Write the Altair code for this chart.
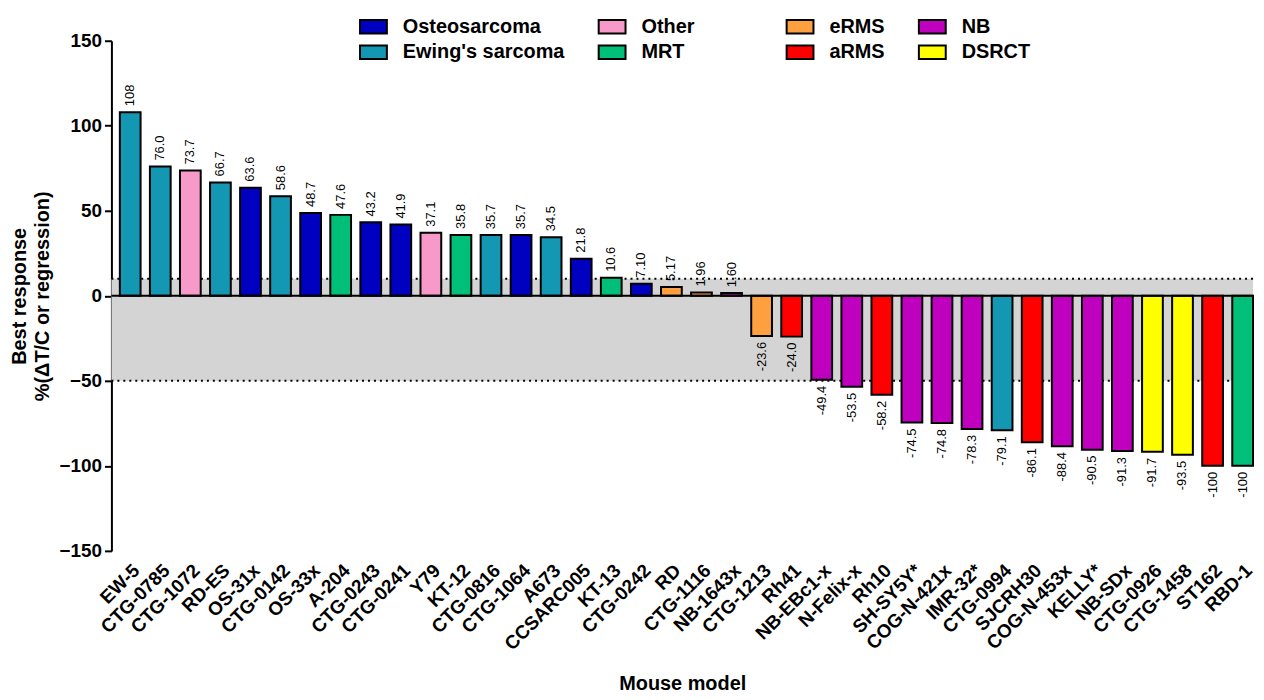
import altair as alt
import pandas as pd

# ---- data ----
models = ["EW-5", "CTG-0785", "CTG-1072", "RD-ES", "OS-31x", "CTG-0142", "OS-33x", "A-204",
          "CTG-0243", "CTG-0241", "Y79", "KT-12", "CTG-0816", "CTG-1064", "A673", "CCSARC005",
          "KT-13", "CTG-0242", "RD", "CTG-1116", "NB-1643x", "CTG-1213", "Rh41", "NB-EBc1-x",
          "N-Felix-x", "Rh10", "SH-SY5Y*", "COG-N-421x", "IMR-32*", "CTG-0994", "SJCRH30",
          "COG-N-453x", "KELLY*", "NB-SDx", "CTG-0926", "CTG-1458", "ST162", "RBD-1"]
values = [108, 76.0, 73.7, 66.7, 63.6, 58.6, 48.7, 47.6, 43.2, 41.9, 37.1, 35.8, 35.7, 35.7,
          34.5, 21.8, 10.6, 7.10, 5.17, 1.96, 1.60, -23.6, -24.0, -49.4, -53.5, -58.2, -74.5,
          -74.8, -78.3, -79.1, -86.1, -88.4, -90.5, -91.3, -91.7, -93.5, -100, -100]
value_labels = ["108", "76.0", "73.7", "66.7", "63.6", "58.6", "48.7", "47.6", "43.2", "41.9",
                "37.1", "35.8", "35.7", "35.7", "34.5", "21.8", "10.6", "7.10", "5.17", "1.96",
                "1.60", "-23.6", "-24.0", "-49.4", "-53.5", "-58.2", "-74.5", "-74.8", "-78.3",
                "-79.1", "-86.1", "-88.4", "-90.5", "-91.3", "-91.7", "-93.5", "-100", "-100"]
types = ["Ewing's sarcoma", "Ewing's sarcoma", "Other", "Ewing's sarcoma", "Osteosarcoma",
         "Ewing's sarcoma", "Osteosarcoma", "MRT", "Osteosarcoma", "Osteosarcoma", "Other", "MRT",
         "Ewing's sarcoma", "Osteosarcoma", "Ewing's sarcoma", "Osteosarcoma", "MRT",
         "Osteosarcoma", "eRMS", "eRMS", "NB", "eRMS", "aRMS", "NB", "NB", "aRMS", "NB", "NB",
         "NB", "Ewing's sarcoma", "aRMS", "NB", "NB", "NB", "DSRCT", "DSRCT", "aRMS", "MRT"]

group_a = ["Osteosarcoma", "Other", "Ewing's sarcoma", "MRT"]
colors_a = ["#0000c0", "#f799c9", "#1497b3", "#00bf78"]
group_b = ["eRMS", "NB", "aRMS", "DSRCT"]
colors_b = ["#ffa040", "#bf00bf", "#ff0000", "#ffff00"]

band_upper = [10]
band_lower = [-50]
dotted_levels = [10, -50]
zero_level = [0]
y_ticks = [-150, -100, -50, 0, 50, 100, 150]

FONT = "Liberation Sans"
W = 1148
H = 513

df = pd.DataFrame({"Model": models, "Value": values, "Label": value_labels, "Type": types})
band_df = pd.DataFrame({"hi": band_upper, "lo": band_lower})
dot_df = pd.DataFrame({"level": dotted_levels})
zero_df = pd.DataFrame({"level": zero_level})

x_enc = alt.X(
    "Model:N", sort=models,
    scale=alt.Scale(domain=models, paddingInner=0.31, paddingOuter=0.14, align=1),
    axis=alt.Axis(title="Mouse model", labelAngle=-45, labelFontSize=19, labelFontWeight="bold",
                  labelColor="black", domain=False, ticks=False, labelPadding=10,
                  titleFontSize=20, titleFontWeight="bold", titlePadding=20, titleColor="black"),
)
y_scale = alt.Scale(domain=[-150, 150], nice=False, zero=False)
y_axis = alt.Axis(values=y_ticks, title=["Best response", "%(ΔT/C or regression)"],
                  labelFontSize=19, labelFontWeight="bold", labelColor="black",
                  domainColor="black", domainWidth=2, tickColor="black", tickWidth=2,
                  tickSize=7, labelPadding=3, grid=False,
                  titleFontSize=20, titleFontWeight="bold", titleLineHeight=24,
                  titlePadding=6, titleColor="black")

band = alt.Chart(band_df).mark_rect(color="#d4d4d4").encode(
    x=alt.value(0), x2=alt.value(W),
    y=alt.Y("hi:Q", scale=y_scale, axis=y_axis), y2="lo:Q")

dots = alt.Chart(dot_df).mark_rule(color="black", strokeWidth=2, strokeDash=[2, 4]).encode(
    x=alt.value(0), x2=alt.value(W), y=alt.Y("level:Q", scale=y_scale))

leg_common = dict(title=None, orient="none", direction="horizontal", columns=2,
                  symbolType="M-1,-0.5H1V0.5H-1Z", symbolSize=729, symbolStrokeWidth=2,
                  symbolStrokeColor="black", labelFontSize=20, labelFontWeight="bold",
                  labelColor="black", labelOffset=15, rowPadding=-3, columnPadding=30,
                  labelFont=FONT, labelLimit=400)

bars_a = alt.Chart(df).transform_filter(
    alt.FieldOneOfPredicate(field="Type", oneOf=group_a)
).mark_bar(stroke="black", strokeWidth=2).encode(
    x=x_enc,
    y=alt.Y("Value:Q", scale=y_scale, stack=None),
    color=alt.Color("Type:N", scale=alt.Scale(domain=group_a, range=colors_a),
                    legend=alt.Legend(legendX=249, legendY=-29, **leg_common)),
)
bars_b = alt.Chart(df).transform_filter(
    alt.FieldOneOfPredicate(field="Type", oneOf=group_b)
).mark_bar(stroke="black", strokeWidth=2).encode(
    x=x_enc,
    y=alt.Y("Value:Q", scale=y_scale, stack=None),
    color=alt.Color("Type:N", scale=alt.Scale(domain=group_b, range=colors_b),
                    legend=alt.Legend(legendX=678, legendY=-29, **leg_common)),
)

zero = alt.Chart(zero_df).mark_rule(color="black", strokeWidth=2).encode(
    x=alt.value(0), x2=alt.value(W), y=alt.Y("level:Q", scale=y_scale))

txt_pos = alt.Chart(df).transform_filter("datum.Value >= 0").mark_text(
    angle=270, align="left", baseline="middle", dx=6, fontSize=13, font=FONT, color="black"
).encode(x=x_enc, y=alt.Y("Value:Q", scale=y_scale), text="Label:N")

txt_neg = alt.Chart(df).transform_filter("datum.Value < 0").mark_text(
    angle=270, align="right", baseline="middle", dx=-6, fontSize=13, font=FONT, color="black"
).encode(x=x_enc, y=alt.Y("Value:Q", scale=y_scale), text="Label:N")

chart = alt.layer(band, dots, bars_a, bars_b, zero, txt_pos, txt_neg).resolve_scale(
    color="independent"
).properties(
    width=W, height=H,
    padding={"left": 1, "top": 2, "right": 0, "bottom": 0},
).configure(font=FONT).configure_view(stroke=None)

chart.save("out.html", embed_options={"renderer": "svg", "actions": False})
